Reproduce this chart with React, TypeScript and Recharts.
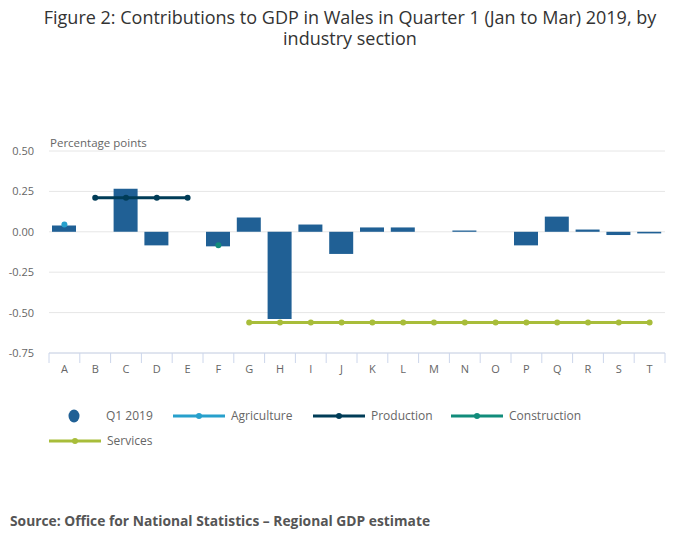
import React from 'react';
import { ComposedChart, Bar, Line, XAxis, YAxis, CartesianGrid } from 'recharts';

const categories = ['A','B','C','D','E','F','G','H','I','J','K','L','M','N','O','P','Q','R','S','T'];
const q1Values = [0.039, null, 0.266, -0.084, null, -0.09, 0.088, -0.539, 0.045, -0.137, 0.027, 0.027, 0, 0.008, 0, -0.084, 0.094, 0.014, -0.02, -0.01];
const agricultureValues = [0.045, null, null, null, null, null, null, null, null, null, null, null, null, null, null, null, null, null, null, null];
const productionValues = [null, 0.211, 0.211, 0.211, 0.211, null, null, null, null, null, null, null, null, null, null, null, null, null, null, null];
const constructionValues = [null, null, null, null, null, -0.084, null, null, null, null, null, null, null, null, null, null, null, null, null, null];
const servicesValues = [null, null, null, null, null, null, -0.561, -0.561, -0.561, -0.561, -0.561, -0.561, -0.561, -0.561, -0.561, -0.561, -0.561, -0.561, -0.561, -0.561];
const yTicks = [0.5, 0.25, 0, -0.25, -0.5, -0.75];
const titleLines = ['Figure 2: Contributions to GDP in Wales in Quarter 1 (Jan to Mar) 2019, by', 'industry section'];

const data = categories.map((c, i) => ({
  cat: c,
  q1: q1Values[i],
  agriculture: agricultureValues[i],
  production: productionValues[i],
  construction: constructionValues[i],
  services: servicesValues[i],
}));

const FONT = '"Open Sans", sans-serif';
const BAR_COLOR = '#206095';
const lineSeries = [
  { key: 'agriculture', name: 'Agriculture', color: '#27a0cc' },
  { key: 'production', name: 'Production', color: '#003c57' },
  { key: 'construction', name: 'Construction', color: '#118c7b' },
  { key: 'services', name: 'Services', color: '#a8bd3a' },
];

const XTick = (props: any) => {
  const { x, y, payload, index, visibleTicksCount } = props;
  const band = 616 / categories.length;
  return (
    <g>
      <line x1={x - band / 2} x2={x - band / 2} y1={y} y2={y + 10} stroke="#ccd6eb" strokeWidth={1} />
      {index === visibleTicksCount - 1 && (
        <line x1={x + band / 2} x2={x + band / 2} y1={y} y2={y + 10} stroke="#ccd6eb" strokeWidth={1} />
      )}
      <text x={x} y={y + 16} dy="0.35em" textAnchor="middle" fill="#666666" fontSize={11} fontFamily={FONT}>
        {payload.value}
      </text>
    </g>
  );
};

const legendItems = [
  { name: 'Q1 2019', color: BAR_COLOR, type: 'circle', x: 62, y: 416 },
  { name: 'Agriculture', color: '#27a0cc', type: 'line', x: 173, y: 416 },
  { name: 'Production', color: '#003c57', type: 'line', x: 313, y: 416 },
  { name: 'Construction', color: '#118c7b', type: 'line', x: 451, y: 416 },
  { name: 'Services', color: '#a8bd3a', type: 'line', x: 49, y: 441 },
];

export default function App() {
  return (
    <div style={{ position: 'absolute', left: 0, top: 0, width: 700, height: 549, fontFamily: FONT, background: '#fff' }}>
      <svg style={{ position: 'absolute', left: 0, top: 0 }} width={700} height={60}>
        {titleLines.map((t, i) => (
          <text key={i} x={350} y={18 + i * 21} dy="0.35em" textAnchor="middle" fontSize={18} fill="#333333" fontFamily={FONT}>
            {t}
          </text>
        ))}
      </svg>
      <div style={{ position: 'absolute', top: 135, left: 50, fontSize: 11.5, color: '#666666', whiteSpace: 'nowrap' }}>
        Percentage points
      </div>
      <div style={{ position: 'absolute', top: 0, left: 0 }}>
        <ComposedChart width={700} height={400} data={data} margin={{ top: 151, right: 35, bottom: 17, left: 0 }} barCategoryGap="22%">
          <CartesianGrid vertical={false} stroke="#e6e6e6" />
          <XAxis dataKey="cat" axisLine={{ stroke: '#ccd6eb' }} tickLine={false} tickSize={0} tickMargin={0} height={30} interval={0} tick={<XTick />} />
          <YAxis
            width={49}
            domain={[-0.75, 0.5]}
            ticks={yTicks}
            type="number"
            axisLine={false}
            tickLine={false}
            tickSize={0}
            tickMargin={15}
            tickFormatter={(v: number) => v.toFixed(2)}
            tick={{ fill: '#666666', fontSize: 11, fontFamily: FONT }}
          />
          <Bar dataKey="q1" fill={BAR_COLOR} barSize={24} isAnimationActive={false} />
          {lineSeries.map((s) => (
            <Line
              key={s.key}
              dataKey={s.key}
              stroke={s.color}
              strokeWidth={3}
              dot={{ r: 3, fill: s.color, stroke: s.color, strokeWidth: 0 }}
              activeDot={false}
              isAnimationActive={false}
              connectNulls={false}
            />
          ))}
        </ComposedChart>
      </div>
      <svg style={{ position: 'absolute', left: 0, top: 0 }} width={700} height={549} pointerEvents="none">
        {legendItems.map((it) => (
          <g key={it.name}>
            {it.type === 'circle' ? (
              <ellipse cx={it.x + 12} cy={it.y} rx={5.5} ry={6.5} fill={it.color} />
            ) : (
              <g>
                <line x1={it.x} x2={it.x + 52} y1={it.y} y2={it.y} stroke={it.color} strokeWidth={3} />
                <circle cx={it.x + 26} cy={it.y} r={3} fill={it.color} />
              </g>
            )}
            <text x={it.type === 'circle' ? 106 : it.x + 58} y={it.y} dy="0.35em" fill="#666666" fontSize={12} fontFamily={FONT}>
              {it.name}
            </text>
          </g>
        ))}
      </svg>
      <div style={{ position: 'absolute', top: 511, left: 10, fontSize: 13.8, fontWeight: 'bold', color: '#555555', whiteSpace: 'nowrap' }}>
        Source: Office for National Statistics – Regional GDP estimate
      </div>
    </div>
  );
}
